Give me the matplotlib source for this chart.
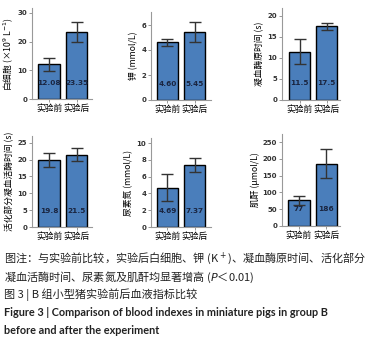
import matplotlib.pyplot as plt
from matplotlib.transforms import blended_transform_factory

plt.rcParams['font.family'] = ['Noto Sans CJK SC', 'DejaVu Sans']

# 数据
groups = ["实验前", "实验后"]
wbc = [12.08, 23.35]
wbc_err = [2.2, 3.6]
k = [4.60, 5.45]
k_err = [0.3, 0.8]
pt = [11.5, 17.5]
pt_err = [3.0, 0.8]
aptt = [19.8, 21.5]
aptt_err = [2.1, 2.0]
bun = [4.69, 7.37]
bun_err = [1.6, 0.85]
cr = [77, 186]
cr_err = [13, 42]
wbc_txt = ["12.08", "23.35"]
k_txt = ["4.60", "5.45"]
pt_txt = ["11.5", "17.5"]
aptt_txt = ["19.8", "21.5"]
bun_txt = ["4.69", "7.37"]
cr_txt = ["77", "186"]

fig = plt.figure(figsize=(3.72, 3.42), dpi=100)

W, H = 372, 342

# 每个子图: (左, 右, 下, 上) 像素, ylim, yticks, xlim
panels = [
    (wbc, wbc_err, wbc_txt, "白细胞 (×10$^9$ L$^{-1}$)", (32, 92, 99, 8), 31.7, [0, 10, 20, 30], (-0.62, 1.56)),
    (k, k_err, k_txt, "钾 (mmol/L)", (151, 211, 100, 12), 7.04, [0, 2, 4, 6], (-0.61, 1.61)),
    (pt, pt_err, pt_txt, "凝血酶原时间 (s)", (282, 340, 100, 8), 21.9, [0, 5, 10, 15, 20], (-0.65, 1.5)),
    (aptt, aptt_err, aptt_txt, "活化部分凝血活酶时间 (s)", (32, 92, 227, 136), 27.0, [0, 5, 10, 15, 20, 25], (-0.62, 1.56)),
    (bun, bun_err, bun_txt, "尿素氮 (mmol/L)", (151, 211, 227, 138), 10.6, [0, 2, 4, 6, 8, 10], (-0.61, 1.61)),
    (cr, cr_err, cr_txt, "肌酐 (μmol/L)", (282, 340, 226, 134), 274, [0, 50, 100, 150, 200, 250], (-0.62, 1.5)),
]

for vals, errs, txts, ylab, (l, r, b, t), ytop, yt, xl in panels:
    ax = fig.add_axes([l / W, 1 - b / H, (r - l) / W, (b - t) / H])
    x = [0, 1]
    ax.bar(x, vals, width=0.78, color="#4a7ebb", edgecolor="black", linewidth=1.0, zorder=2)
    ax.errorbar(x, vals, yerr=errs, fmt="none", ecolor="#333333", elinewidth=1.0,
                capsize=4, capthick=1.0, zorder=3)
    tr = blended_transform_factory(ax.transData, ax.transAxes)
    for xi, s in zip(x, txts):
        ax.text(xi, 0.18, s, transform=tr, ha="center", va="center",
                fontsize=5.3, color="#1a2540", family="DejaVu Sans",
                fontweight="bold", zorder=4)
    ax.set_ylim(0, ytop)
    ax.set_xlim(*xl)
    ax.set_yticks(yt)
    ax.set_yticklabels([str(v) for v in yt], fontsize=5, color="#333333",
                       family="DejaVu Sans", fontweight="bold")
    ax.set_xticks(x)
    ax.set_xticklabels(groups, fontsize=6.3)
    ax.tick_params(axis="both", length=2, width=0.6, color="#888888", pad=1.5)
    ax.set_ylabel(ylab, fontsize=6.3, labelpad=2)
    for s in ["top", "right"]:
        ax.spines[s].set_visible(False)
    for s in ["left", "bottom"]:
        ax.spines[s].set_color("#999999")
        ax.spines[s].set_linewidth(0.8)

# 图注
cap = dict(fontsize=8, ha="left", va="center", color="#222222")
fig.text(4 / W, 1 - 258 / H, "图注：与实验前比较，实验后白细胞、钾 (K$^+$)、凝血酶原时间、活化部分", **cap)
fig.text(4 / W, 1 - 277 / H, "凝血活酶时间、尿素氮及肌酐均显著增高 ($P$＜0.01)", **cap)
fig.text(4 / W, 1 - 295 / H, "图 3 | B 组小型猪实验前后血液指标比较", **cap)
fig.text(4 / W, 1 - 313 / H, "Figure 3 | Comparison of blood indexes in miniature pigs in group B",
         fontsize=7.8, ha="left", va="center", color="#222222", family="Lato", fontweight="bold")
fig.text(4 / W, 1 - 331 / H, "before and after the experiment",
         fontsize=7.8, ha="left", va="center", color="#222222", family="Lato", fontweight="bold")

fig.savefig("out.png", dpi=100)
